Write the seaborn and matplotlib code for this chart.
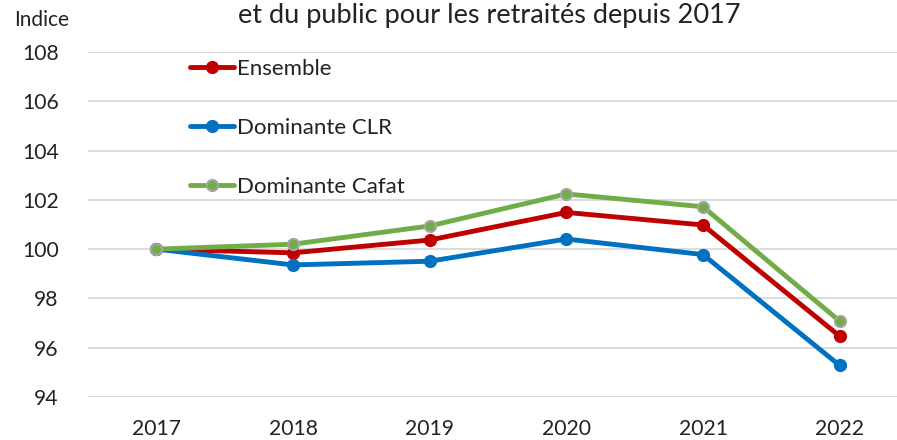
import numpy as np
import pandas as pd
import matplotlib
matplotlib.use("Agg")
import matplotlib.pyplot as plt
import seaborn as sns

# Valeurs (indice base 100 en 2017)
years = [2017, 2018, 2019, 2020, 2021, 2022]
ensemble = [100.0, 99.85, 100.37, 101.49, 100.98, 96.47]
dominante_clr = [100.0, 99.36, 99.51, 100.41, 99.78, 95.28]
dominante_cafat = [100.0, 100.2, 100.94, 102.24, 101.72, 97.08]
y_ticks = [94, 96, 98, 100, 102, 104, 106, 108]

series = [
    ("Ensemble", ensemble, "#c00000", "#c00000"),
    ("Dominante CLR", dominante_clr, "#0070c0", "#0070c0"),
    ("Dominante Cafat", dominante_cafat, "#70ad47", "#a5a5a5"),
]

sns.set_style("white")
plt.rcParams["font.family"] = ["Lato", "DejaVu Sans"]

fig = plt.figure(figsize=(8.97, 4.40), dpi=100)
ax = fig.add_axes([88 / 897, 1 - 397 / 440, 820 / 897, 345 / 440])

for name, vals, col, edge in series:
    df = pd.DataFrame({"annee": years, "indice": vals})
    sns.lineplot(data=df, x="annee", y="indice", ax=ax, color=col, label=name,
                 linewidth=3.5, marker="o", markersize=8,
                 markerfacecolor=col, markeredgecolor=edge, markeredgewidth=1.5)

ax.set_xlim(2016.5, 2022.5)
ax.set_ylim(94, 108)
ax.set_xticks(years)
ax.set_yticks(y_ticks)
ax.set_xlabel("")
ax.set_ylabel("")
ax.grid(axis="y", color="#d9d9d9", linewidth=1.3)
ax.set_axisbelow(True)
for s in ax.spines.values():
    s.set_visible(False)
ax.tick_params(axis="both", length=0, labelsize=15.2, colors="#222222")
ax.tick_params(axis="x", pad=16)
ax.tick_params(axis="y", pad=21)

leg = ax.legend(loc="upper left", bbox_to_anchor=(190 / 897, 1 - 59 / 440),
                bbox_transform=fig.transFigure, frameon=False, fontsize=16,
                handlelength=2.0, handletextpad=0.1, labelspacing=1.76,
                borderpad=0, borderaxespad=0)
for t in leg.get_texts():
    t.set_color("#222222")

fig.text(42 / 897, 1 - 20 / 440, "Indice", fontsize=15, color="#222222",
         ha="center", va="center")
fig.text(489 / 897, 1 - 15 / 440, "et du public pour les retraités depuis 2017",
         fontsize=19.5, color="#222222", ha="center", va="center")

fig.savefig("out.png", dpi=100)
